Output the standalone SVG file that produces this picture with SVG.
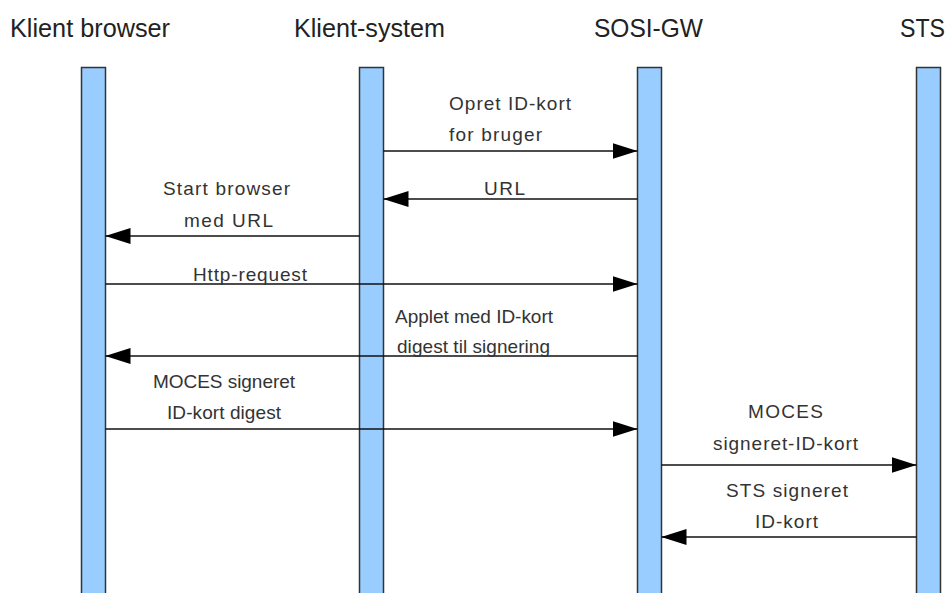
<svg xmlns="http://www.w3.org/2000/svg" width="949" height="593" viewBox="0 0 949 593">
<style>
.bar{fill:#99ccff;stroke:#333;stroke-width:1.5}
.hdr{font-family:"Liberation Sans",Arial,sans-serif;font-size:26px;fill:#222}
.lbl{font-family:"Liberation Sans",Arial,sans-serif;font-size:19px;fill:#333}
.msg{stroke:#111;stroke-width:1.5;fill:none;marker-end:url(#arr)}
</style>
<defs>
<marker id="arr" viewBox="0 0 25 16" refX="25" refY="8" markerWidth="25" markerHeight="16" orient="auto" markerUnits="userSpaceOnUse">
<path d="M0,0 L25,8 L0,16 Z" fill="#000"/>
</marker>
</defs>
<rect width="949" height="593" fill="#fff"/>
<g id="klient-browser">
<text class="hdr" x="10" y="37" textLength="160" lengthAdjust="spacingAndGlyphs">Klient browser</text>
<rect class="bar" x="81.5" y="67.5" width="24" height="540"/>
</g>
<g id="klient-system">
<text class="hdr" x="294" y="37" textLength="151" lengthAdjust="spacingAndGlyphs">Klient-system</text>
<rect class="bar" x="359.5" y="67.5" width="24" height="540"/>
</g>
<g id="sosi-gw">
<text class="hdr" x="594" y="37" textLength="109" lengthAdjust="spacingAndGlyphs">SOSI-GW</text>
<rect class="bar" x="637.5" y="67.5" width="24" height="540"/>
</g>
<g id="sts">
<text class="hdr" x="900" y="37" textLength="45" lengthAdjust="spacingAndGlyphs">STS</text>
<rect class="bar" x="916.5" y="67.5" width="24" height="540"/>
</g>
<g id="connectors">
<line class="msg" x1="383.5" y1="151" x2="637.5" y2="151"/>
<line class="msg" x1="637.5" y1="199" x2="383.5" y2="199"/>
<line class="msg" x1="359.5" y1="236" x2="105.5" y2="236"/>
<line class="msg" x1="105.5" y1="284" x2="637.5" y2="284"/>
<line class="msg" x1="637.5" y1="356" x2="105.5" y2="356"/>
<line class="msg" x1="105.5" y1="429" x2="637.5" y2="429"/>
<line class="msg" x1="661.5" y1="465" x2="916.5" y2="465"/>
<line class="msg" x1="916.5" y1="537" x2="661.5" y2="537"/>
</g>
<g id="labels">
<text class="lbl" x="449" y="110" textLength="122" lengthAdjust="spacing">Opret ID-kort</text>
<text class="lbl" x="449" y="141" textLength="93" lengthAdjust="spacing">for bruger</text>
<text class="lbl" x="484" y="195" textLength="41" lengthAdjust="spacing">URL</text>
<text class="lbl" x="163" y="195" textLength="127" lengthAdjust="spacing">Start browser</text>
<text class="lbl" x="184" y="227" textLength="89" lengthAdjust="spacing">med URL</text>
<text class="lbl" x="193" y="281" textLength="114" lengthAdjust="spacing">Http-request</text>
<text class="lbl" x="395" y="323" textLength="158" lengthAdjust="spacing">Applet med ID-kort</text>
<text class="lbl" x="397" y="353" textLength="153" lengthAdjust="spacing">digest til signering</text>
<text class="lbl" x="153" y="388" textLength="142" lengthAdjust="spacing">MOCES signeret</text>
<text class="lbl" x="167" y="419" textLength="114" lengthAdjust="spacing">ID-kort digest</text>
<text class="lbl" x="748" y="418" textLength="75" lengthAdjust="spacing">MOCES</text>
<text class="lbl" x="713" y="450" textLength="145" lengthAdjust="spacing">signeret-ID-kort</text>
<text class="lbl" x="726" y="497" textLength="122" lengthAdjust="spacing">STS signeret</text>
<text class="lbl" x="755" y="528" textLength="63" lengthAdjust="spacing">ID-kort</text>
</g>
</svg>
